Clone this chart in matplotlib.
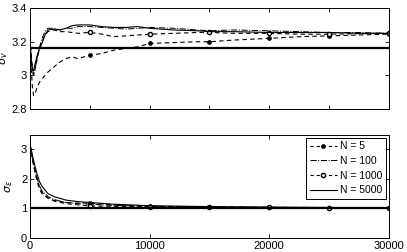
import matplotlib
matplotlib.use("Agg")
import matplotlib.pyplot as plt
from matplotlib.lines import Line2D

plt.rcParams['font.family'] = ['Liberation Sans', 'DejaVu Sans']
plt.rcParams['mathtext.fontset'] = 'dejavusans'

# ---- data ----
t_top = [0, 100, 200, 300, 400, 600, 800, 1000, 1250, 1500, 2000, 2500, 3000, 3500,
         4000, 5000, 6000, 7000, 8000, 9000, 10000, 12000, 14000, 15000, 17000,
         20000, 22500, 25000, 27500, 30000]
top_n5 = [3.18, 3.05, 2.93, 2.88, 2.89, 2.93, 2.96, 2.98, 3.00, 3.02, 3.05, 3.08, 3.10, 3.11,
          3.10, 3.12, 3.13, 3.15, 3.16, 3.17, 3.19, 3.195, 3.20, 3.20, 3.21,
          3.22, 3.23, 3.235, 3.24, 3.245]
top_n100 = [3.20, 3.10, 3.02, 3.00, 3.03, 3.10, 3.17, 3.22, 3.26, 3.28, 3.28, 3.27, 3.28, 3.28,
            3.29, 3.29, 3.285, 3.28, 3.275, 3.28, 3.285, 3.28, 3.27, 3.265, 3.27,
            3.265, 3.26, 3.255, 3.255, 3.25]
top_n1000 = [3.22, 3.12, 3.04, 3.01, 3.03, 3.10, 3.16, 3.20, 3.24, 3.26, 3.27, 3.26, 3.26, 3.255,
             3.25, 3.256, 3.245, 3.23, 3.235, 3.24, 3.245, 3.25, 3.255, 3.255, 3.25,
             3.25, 3.245, 3.245, 3.248, 3.25]
top_n5000 = [3.21, 3.10, 3.04, 3.03, 3.06, 3.12, 3.16, 3.19, 3.24, 3.27, 3.275, 3.27, 3.28, 3.295,
             3.30, 3.30, 3.29, 3.285, 3.285, 3.29, 3.28, 3.27, 3.265, 3.26, 3.26,
             3.255, 3.255, 3.255, 3.25, 3.25]
true_v = 3.16

t_bot = [0, 100, 200, 400, 600, 800, 1000, 1500, 2000, 3000, 4000, 5000, 7000,
         10000, 15000, 20000, 25000, 30000]
bot_n5 = [3.15, 2.9, 2.65, 2.25, 1.9, 1.65, 1.5, 1.35, 1.27, 1.2, 1.18, 1.18, 1.12,
          1.07, 1.04, 1.03, 1.02, 1.01]
bot_n100 = [3.1, 2.9, 2.7, 2.3, 2.0, 1.75, 1.6, 1.4, 1.3, 1.2, 1.16, 1.14, 1.1,
            1.07, 1.05, 1.04, 1.03, 1.02]
bot_n1000 = [3.15, 2.95, 2.75, 2.35, 2.0, 1.7, 1.55, 1.35, 1.25, 1.16, 1.12, 1.08, 1.07,
             1.05, 1.04, 1.03, 1.02, 1.02]
bot_n5000 = [3.2, 3.0, 2.8, 2.45, 2.15, 1.9, 1.75, 1.5, 1.4, 1.28, 1.23, 1.2, 1.14,
             1.09, 1.06, 1.04, 1.03, 1.02]
true_e = 1.0

labels = ['N = 5', 'N = 100', 'N = 1000', 'N = 5000']
top_ticklabels = ['2.8', '3', '3.2', '3.4']

fig = plt.figure(figsize=(4.07, 2.52), dpi=100)
ax1 = fig.add_axes([0.0737, 0.567, 0.882, 0.401])
ax2 = fig.add_axes([0.0737, 0.056, 0.882, 0.410])

def marks(t):
    return [i for i, v in enumerate(t) if v > 0 and v % 5000 == 0]

def draw(ax, t, s5, s100, s1000, s5000):
    ax.plot(t, s5, '--', color='black', lw=0.8, marker='o', ms=2.4, mfc='black',
            markevery=marks(t), dashes=(4, 3))
    ax.plot(t, s100, '-.', color='black', lw=0.7)
    ax.plot(t, s1000, '--', color='black', lw=0.8, marker='o', ms=3.0, mfc='white',
            markevery=marks(t), dashes=(4, 3))
    ax.plot(t, s5000, '-', color='black', lw=0.8)

draw(ax1, t_top, top_n5, top_n100, top_n1000, top_n5000)
ax1.axhline(true_v, color='black', lw=1.6)
draw(ax2, t_bot, bot_n5, bot_n100, bot_n1000, bot_n5000)
ax2.axhline(true_e, color='black', lw=1.6)

for ax in (ax1, ax2):
    ax.set_xlim(0, 30000)
    ax.tick_params(direction='in', top=True, right=True, labelsize=8, length=3, width=0.6, pad=2)
    for sp in ax.spines.values():
        sp.set_linewidth(0.7)

ax1.set_ylim(2.8, 3.4)
ax1.set_yticks([2.8, 3.0, 3.2, 3.4])
ax1.set_yticklabels(top_ticklabels)
ax1.set_xticks(range(0, 30001, 5000))
ax1.set_xticklabels([])
ax1.set_ylabel(r'$\sigma_v$', fontsize=8, labelpad=1)

ax2.set_ylim(0, 3.5)
ax2.set_yticks([0, 1, 2, 3])
ax2.set_xticks([0, 10000, 20000, 30000])
ax2.set_ylabel(r'$\sigma_\epsilon$', fontsize=8, labelpad=4)

handles = [
    Line2D([], [], ls='--', color='black', lw=0.8, marker='o', ms=2.4, mfc='black', dashes=(3, 2.5)),
    Line2D([], [], ls='-.', color='black', lw=0.7),
    Line2D([], [], ls='--', color='black', lw=0.8, marker='o', ms=3.0, mfc='white', dashes=(3, 2.5)),
    Line2D([], [], ls='-', color='black', lw=0.8),
]
leg = ax2.legend(handles, labels, loc='upper right', fontsize=7.5, frameon=True,
                 fancybox=False, edgecolor='black', framealpha=1, borderpad=0.35,
                 labelspacing=0.45, handlelength=2.6, handletextpad=0.3,
                 borderaxespad=0.3)
leg.get_frame().set_linewidth(0.7)

fig.savefig('out.png', dpi=100)
